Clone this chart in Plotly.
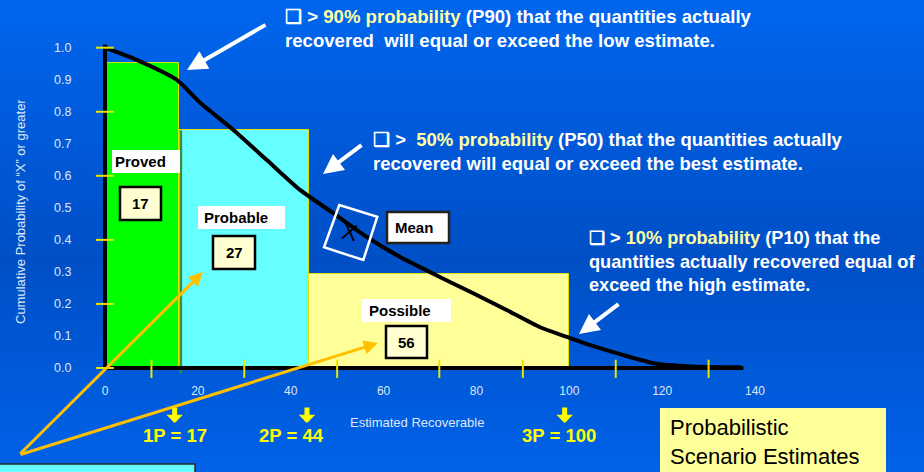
import plotly.graph_objects as go

# ---------------- data ----------------
categories = ["Proved", "Probable", "Possible"]
volumes = [17, 27, 56]
cum_labels = ["1P = 17", "2P = 44", "3P = 100"]
bar_left = [0, 16, 44]
bar_right = [16, 44, 100]
bar_height = [0.952, 0.742, 0.295]
bar_colors = ["#00ff00", "#66ffff", "#ffff99"]

curve_x = [0, 6.8, 15.4, 20.5, 27.6, 34.8, 42, 49.1, 56.4, 63.5, 72.1, 79.2,
           86.5, 93.6, 99.5, 104.4, 111.5, 118.8, 126, 137]
curve_y = [1.0, 0.962, 0.90, 0.828, 0.744, 0.65, 0.556, 0.484, 0.409, 0.347,
           0.284, 0.234, 0.181, 0.128, 0.097, 0.072, 0.041, 0.013, 0.005, 0.002]

x_ticks = [0, 20, 40, 60, 80, 100, 120, 140]
y_ticks = [0.0, 0.1, 0.2, 0.3, 0.4, 0.5, 0.6, 0.7, 0.8, 0.9, 1.0]
y_marks = [0.0, 0.2, 0.4, 0.6, 0.8, 1.0]
x_marks = [10, 30, 50, 72, 90, 110, 130]
p_arrow_x = [15, 43.5, 99]
axis_end_x = 137.5

# ---------------- layout geometry ----------------
W, H = 924, 472
L, R, T, B = 95, 780, 40, 382
X0PX, XSCALE = 105, 4.643
Y0PX, YSCALE = 368, 320.3
xrange_ = [(L - X0PX) / XSCALE, (R - X0PX) / XSCALE]
yrange_ = [(Y0PX - B) / YSCALE, (Y0PX - T) / YSCALE]


def px(xp):
    return (xp - L) / (R - L)


def py(yp):
    return (B - yp) / (B - T)


FONT = "Liberation Sans, Arial, Helvetica, sans-serif"
LIGHT = "#dfe7f7"

fig = go.Figure()

# bars
fig.add_trace(go.Bar(
    x=[(a + b) / 2 for a, b in zip(bar_left, bar_right)],
    y=bar_height,
    width=[b - a for a, b in zip(bar_left, bar_right)],
    marker=dict(color=bar_colors, line=dict(color="#e2e200", width=1)),
    hoverinfo="skip",
))

# cumulative probability curve
fig.add_trace(go.Scatter(
    x=curve_x, y=curve_y, mode="lines",
    line=dict(color="black", width=4, shape="spline", smoothing=0.6),
    hoverinfo="skip",
))

shapes = []

# background gradient bands
def lerp(c1, c2, t):
    return tuple(int(round(a + (b - a) * t)) for a, b in zip(c1, c2))

top_c, mid_c, bot_c = (0, 102, 238), (0, 79, 198), (0, 98, 232)
nb = 48
for i in range(nb):
    y0p = H * i / nb
    y1p = H * (i + 1) / nb
    t = (i + 0.5) / nb
    if t < 0.55:
        c = lerp(top_c, mid_c, t / 0.55)
    else:
        c = lerp(mid_c, bot_c, (t - 0.55) / 0.45)
    shapes.append(dict(type="rect", xref="paper", yref="paper", layer="below",
                       x0=px(-2), x1=px(W + 2), y0=py(y1p + 0.6), y1=py(y0p - 0.6),
                       line=dict(width=0), fillcolor="rgb(%d,%d,%d)" % c))

# dark strip between green and cyan bars
shapes.append(dict(type="line", xref="x", yref="y", x0=bar_right[0] + 0.35,
                   x1=bar_right[0] + 0.35, y0=-0.016, y1=bar_height[1],
                   line=dict(color="#3b8f3b", width=2.5), layer="above"))

# axis lines
shapes.append(dict(type="line", xref="x", yref="y", x0=0, x1=0, y0=0, y1=1.01,
                   line=dict(color="black", width=4), layer="above"))
shapes.append(dict(type="line", xref="x", yref="y", x0=0, x1=axis_end_x, y0=0, y1=0,
                   line=dict(color="black", width=4), layer="above"))

# yellow tick marks
for v in y_marks:
    shapes.append(dict(type="line", xref="x", yref="y", x0=-1.95, x1=1.9, y0=v, y1=v,
                       line=dict(color="#e6e600", width=2), layer="above"))
for v in x_marks:
    shapes.append(dict(type="line", xref="x", yref="y", x0=v, x1=v, y0=0.026, y1=-0.031,
                       line=dict(color="#e6e600", width=2), layer="above"))


def box(x0, y0, x1, y1, fill, border=None, bw=0):
    shapes.append(dict(type="rect", xref="paper", yref="paper", layer="above",
                       x0=px(x0), x1=px(x1), y0=py(y1), y1=py(y0),
                       fillcolor=fill,
                       line=dict(color=border if border else fill, width=bw)))


# label boxes
box(112, 150, 180, 173, "white")
box(120, 187, 161, 220, "#ffffd2", "black", 2.5)
box(198, 206, 285, 229, "white")
box(213, 236, 255, 269, "#ffffd2", "black", 2.5)
box(362, 299, 451, 322, "white")
box(386, 326, 427, 358, "#ffffd2", "black", 2.5)
box(387, 212, 449, 243, "white", "#222222", 2.5)
box(-3, 464, 195, 480, "#66ffff", "#2a2a2a", 1.5)
box(660, 408, 886, 476, "#ffff99")

# rotated square around the mean
corners = [(339.3, 205), (377.3, 216.7), (363.3, 260), (324, 247.3)]
path = "M " + " L ".join("%f,%f" % (px(a), py(b)) for a, b in corners) + " Z"
shapes.append(dict(type="path", xref="paper", yref="paper", path=path,
                   line=dict(color="white", width=2.5), layer="above"))

anns = []


def text(xp, yp, s, size, color="black", xanchor="center", bold=False, angle=0,
         align="left"):
    anns.append(dict(xref="paper", yref="paper", x=px(xp), y=py(yp),
                     text=("<b>%s</b>" % s) if bold else s, showarrow=False,
                     xanchor=xanchor, yanchor="middle", align=align,
                     textangle=angle,
                     font=dict(family=FONT, size=size, color=color)))


# bar labels
text(112.5, 161.5, categories[0], 15, bold=True, xanchor="left")
text(140.5, 203.5, str(volumes[0]), 15, bold=True)
text(202, 217.5, categories[1], 15, bold=True, xanchor="left")
text(234, 252.5, str(volumes[1]), 15, bold=True)
text(367, 310.5, categories[2], 15, bold=True, xanchor="left")
text(406.5, 342, str(volumes[2]), 15, bold=True)
text(393, 227.5, "Mean", 15, bold=True, xanchor="left")
text(349, 232, "X", 23, angle=12)

PY = "#ffffa6"
text(283, 29, "❑ > <span style='color:%s'>90%% probability</span> (P90) that the quantities actually<br>"
     "recovered  will equal or exceed the low estimate." % PY, 18.6, "white", "left", True)
text(371, 151, "❑ >  <span style='color:%s'>50%% probability</span> (P50) that the quantities actually<br>"
     "recovered will equal or exceed the best estimate." % PY, 18.5, "white", "left", True)
text(587, 261, "❑ > <span style='color:%s'>10%% probability</span> (P10) that the<br>"
     "quantities actually recovered equal of<br>exceed the high estimate." % PY,
     18.2, "white", "left", True)

# axis titles
text(417, 422, "Estimated Recoverable", 13, LIGHT)
text(20, 212, "Cumulative Probability of “X” or greater", 13, LIGHT, angle=-90)

# 1P/2P/3P labels
for xc, lab in zip([175, 291.5, 558.5], cum_labels):
    text(xc, 435, lab, 18.5, "#ffff00", bold=True)

# probabilistic box text
text(668, 442, "Probabilistic<br>Scenario Estimates", 22, "black", "left")

# white arrows
for tail, tip in [((267, 24), (187, 70)), ((363, 144), (323, 174)),
                  ((620, 303), (579, 334))]:
    anns.append(dict(xref="paper", yref="paper", x=px(tip[0]), y=py(tip[1]),
                     ax=tail[0] - tip[0], ay=tail[1] - tip[1], text="",
                     showarrow=True, arrowhead=2, arrowwidth=4, arrowsize=1.0,
                     arrowcolor="white"))

# orange arrows
for tip in [(203, 272), (378, 343)]:
    anns.append(dict(xref="paper", yref="paper", x=px(tip[0]), y=py(tip[1]),
                     ax=19 - tip[0], ay=455 - tip[1], text="",
                     showarrow=True, arrowhead=2, arrowwidth=3, arrowsize=0.95,
                     arrowcolor="#ffc000"))

# yellow down arrows
for xv in p_arrow_x:
    anns.append(dict(xref="x", yref="paper", x=xv, y=py(423),
                     ax=0, ay=-17, text="", showarrow=True, arrowhead=1,
                     arrowwidth=5, arrowsize=0.55, arrowcolor="#ffff00"))

fig.update_layout(
    width=W, height=H,
    margin=dict(l=L, r=W - R, t=T, b=H - B, pad=0),
    paper_bgcolor="#0058d8",
    plot_bgcolor="rgba(0,0,0,0)",
    showlegend=False,
    bargap=0,
    shapes=shapes,
    annotations=anns,
    font=dict(family=FONT),
    xaxis=dict(range=xrange_, showgrid=False, zeroline=False, showline=False,
               tickvals=x_ticks, ticks="", tickfont=dict(size=12, color=LIGHT,
                                                         family=FONT)),
    yaxis=dict(range=yrange_, showgrid=False, zeroline=False, showline=False,
               tickvals=y_ticks, ticktext=["%.1f" % v for v in y_ticks],
               ticks="outside", ticklen=20, tickcolor="rgba(0,0,0,0)",
               tickfont=dict(size=12.5, color=LIGHT, family=FONT)),
)

fig.write_html("out.html",
               config={"displayModeBar": False},
               post_script="document.body.style.margin='0px';"
                           "document.body.style.overflow='hidden';")
